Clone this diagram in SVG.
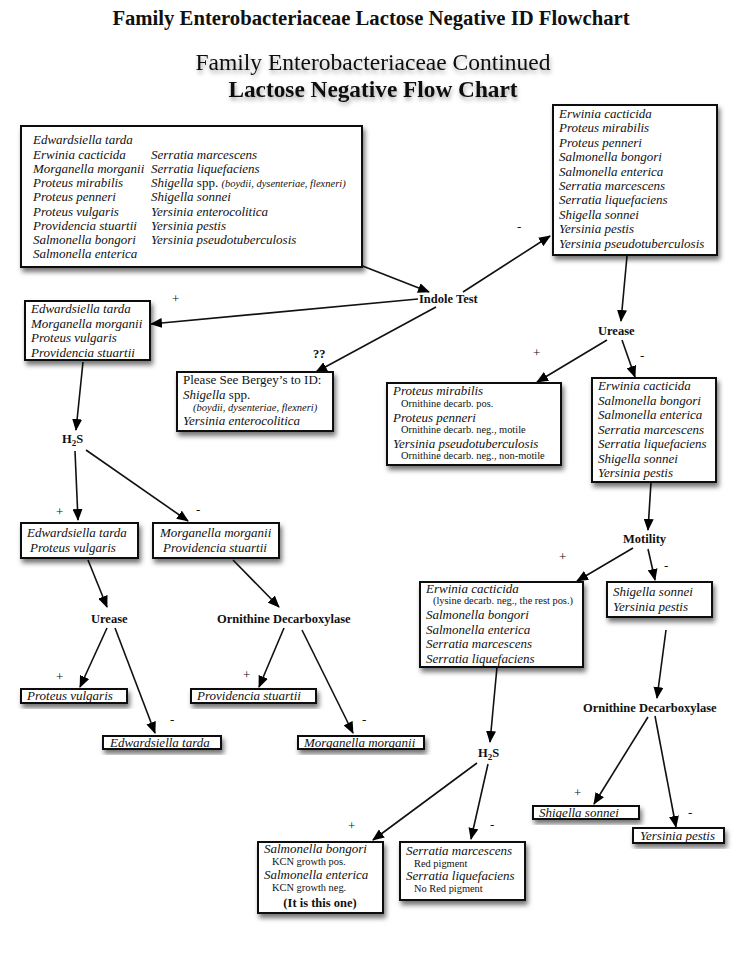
<svg xmlns="http://www.w3.org/2000/svg" width="736" height="960" viewBox="0 0 736 960">
<defs>
<filter id="sh" x="-10%" y="-20%" width="130%" height="160%">
<feDropShadow dx="2" dy="4" stdDeviation="2.5" flood-color="#000" flood-opacity="0.55"/>
</filter>
<filter id="tsh" x="-5%" y="-20%" width="110%" height="160%">
<feDropShadow dx="1" dy="3" stdDeviation="2" flood-color="#000" flood-opacity="0.35"/>
</filter>
<marker id="ah" markerUnits="userSpaceOnUse" markerWidth="12" markerHeight="10" refX="11" refY="5" orient="auto">
<path d="M0,0 L12,5 L0,10 z" fill="#000"/>
</marker>
</defs>
<style>
text{font-family:"Liberation Serif","Times New Roman",serif;fill:#111}
.t{font-weight:bold;font-size:20.7px}
.it{font-style:italic;font-size:13px}
.sm{font-size:10.4px}
.smi{font-size:10.5px;font-style:italic}
.lb{font-weight:bold;font-size:12.5px}
.pm{font-size:13px;fill:#111}
.box{fill:#fff;stroke:#111;stroke-width:2;filter:url(#sh)}
.c line{stroke:#111;stroke-width:1.6;marker-end:url(#ah)}
</style>
<rect width="736" height="960" fill="#fff"/>
<g id="title">
<text class="t" x="371" y="25" text-anchor="middle">Family Enterobacteriaceae Lactose Negative ID Flowchart</text>
<text x="373" y="70" text-anchor="middle" font-size="23.5" filter="url(#tsh)">Family Enterobacteriaceae Continued</text>
<text x="373" y="97" text-anchor="middle" font-size="23.3" font-weight="bold" filter="url(#tsh)">Lactose Negative Flow Chart</text>
</g>
<g class="c" id="connectors">
<line x1="360" y1="265" x2="429" y2="292"/>
<line x1="463" y1="292" x2="550" y2="236"/>
<line x1="418" y1="299" x2="151" y2="324"/>
<line x1="436" y1="307" x2="316" y2="372"/>
<line x1="627" y1="256" x2="621" y2="321"/>
<line x1="607" y1="340" x2="537" y2="382"/>
<line x1="622" y1="340" x2="635" y2="377"/>
<line x1="651" y1="482" x2="648" y2="530"/>
<line x1="633" y1="548" x2="577" y2="581"/>
<line x1="648" y1="549" x2="655" y2="580"/>
<line x1="666" y1="630" x2="657" y2="698"/>
<line x1="648" y1="717" x2="594" y2="804"/>
<line x1="655" y1="716" x2="676" y2="827"/>
<line x1="497" y1="667" x2="490" y2="742"/>
<line x1="477" y1="763" x2="373" y2="840"/>
<line x1="488" y1="764" x2="471" y2="839"/>
<line x1="83" y1="362" x2="76" y2="430"/>
<line x1="75" y1="451" x2="78" y2="520"/>
<line x1="86" y1="450" x2="188" y2="521"/>
<line x1="88" y1="560" x2="107" y2="607"/>
<line x1="233" y1="560" x2="279" y2="607"/>
<line x1="107" y1="628" x2="80" y2="687"/>
<line x1="115" y1="628" x2="155" y2="733"/>
<line x1="284" y1="628" x2="259" y2="687"/>
<line x1="302" y1="630" x2="353" y2="733"/>
</g>
<g id="edge-labels">
<text class="pm" x="517" y="231">-</text>
<text class="pm" x="172" y="303">+</text>
<text class="lb" x="313" y="358">??</text>
<text class="pm" x="533" y="357">+</text>
<text class="pm" x="640" y="360">-</text>
<text class="pm" x="559" y="561">+</text>
<text class="pm" x="664" y="570">-</text>
<text class="pm" x="574" y="797">+</text>
<text class="pm" x="688" y="817">-</text>
<text class="pm" x="348" y="830">+</text>
<text class="pm" x="490" y="829">-</text>
<text class="pm" x="56" y="516">+</text>
<text class="pm" x="196" y="514">-</text>
<text class="pm" x="56" y="681">+</text>
<text class="pm" x="170" y="724">-</text>
<text class="pm" x="243" y="679">+</text>
<text class="pm" x="362" y="724">-</text>
</g>
<g id="box-all">
<rect class="box" x="21" y="126" width="341" height="141"/>
<text class="it" x="33"><tspan x="33" y="144">Edwardsiella tarda</tspan><tspan x="33" y="158.5">Erwinia cacticida</tspan><tspan x="33" y="172.5">Morganella morganii</tspan><tspan x="33" y="187">Proteus mirabilis</tspan><tspan x="33" y="201">Proteus penneri</tspan><tspan x="33" y="215.5">Proteus vulgaris</tspan><tspan x="33" y="229.5">Providencia stuartii</tspan><tspan x="33" y="244">Salmonella bongori</tspan><tspan x="33" y="258">Salmonella enterica</tspan></text>
<text class="it"><tspan x="151" y="158.5">Serratia marcescens</tspan><tspan x="151" y="172.5">Serratia liquefaciens</tspan><tspan x="151" y="187">Shigella <tspan font-style="normal">spp.</tspan> <tspan font-size="10.5">(boydii, dysenteriae, flexneri)</tspan></tspan><tspan x="151" y="201">Shigella sonnei</tspan><tspan x="151" y="215.5">Yersinia enterocolitica</tspan><tspan x="151" y="229.5">Yersinia pestis</tspan><tspan x="151" y="244">Yersinia pseudotuberculosis</tspan></text>
</g>
<g id="box-indole-neg">
<rect class="box" x="553" y="105" width="164" height="150"/>
<text class="it"><tspan x="559" y="118">Erwinia cacticida</tspan><tspan x="559" y="132.4">Proteus mirabilis</tspan><tspan x="559" y="146.8">Proteus penneri</tspan><tspan x="559" y="161.2">Salmonella bongori</tspan><tspan x="559" y="175.6">Salmonella enterica</tspan><tspan x="559" y="190">Serratia marcescens</tspan><tspan x="559" y="204.4">Serratia liquefaciens</tspan><tspan x="559" y="218.8">Shigella sonnei</tspan><tspan x="559" y="233.2">Yersinia pestis</tspan><tspan x="559" y="247.6">Yersinia pseudotuberculosis</tspan></text>
</g>
<g id="indole"><text class="lb" x="419" y="303">Indole Test</text></g>
<g id="box-indole-pos">
<rect class="box" x="25" y="301" width="125" height="59"/>
<text class="it"><tspan x="31" y="313">Edwardsiella tarda</tspan><tspan x="31" y="327.5">Morganella morganii</tspan><tspan x="31" y="342">Proteus vulgaris</tspan><tspan x="31" y="356.5">Providencia stuartii</tspan></text>
</g>
<g id="box-bergey">
<rect class="box" x="177" y="372" width="156" height="59"/>
<text font-size="13"><tspan x="183" y="384">Please See Bergey’s to ID:</tspan><tspan x="183" y="399"><tspan font-style="italic">Shigella</tspan> spp.</tspan></text>
<text class="smi" x="193" y="411">(boydii, dysenteriae, flexneri)</text>
<text class="it" x="183" y="425">Yersinia enterocolitica</text>
</g>
<g id="urease-r"><text class="lb" x="598" y="335">Urease</text></g>
<g id="box-urease-pos">
<rect class="box" x="387" y="383" width="174" height="82"/>
<text class="it"><tspan x="393" y="395">Proteus mirabilis</tspan><tspan x="393" y="422">Proteus penneri</tspan><tspan x="393" y="447.5">Yersinia pseudotuberculosis</tspan></text>
<text class="sm"><tspan x="401" y="407">Ornithine decarb. pos.</tspan><tspan x="401" y="433">Ornithine decarb. neg., motile</tspan><tspan x="401" y="459">Ornithine decarb. neg., non-motile</tspan></text>
</g>
<g id="box-urease-neg">
<rect class="box" x="592" y="378" width="124" height="104"/>
<text class="it"><tspan x="598" y="390">Erwinia cacticida</tspan><tspan x="598" y="404.5">Salmonella bongori</tspan><tspan x="598" y="419">Salmonella enterica</tspan><tspan x="598" y="433.5">Serratia marcescens</tspan><tspan x="598" y="448">Serratia liquefaciens</tspan><tspan x="598" y="462.5">Shigella sonnei</tspan><tspan x="598" y="477">Yersinia pestis</tspan></text>
</g>
<g id="motility"><text class="lb" x="623" y="543">Motility</text></g>
<g id="box-motility-pos">
<rect class="box" x="420" y="582" width="163" height="85"/>
<text class="it" x="426" y="593">Erwinia cacticida</text>
<text class="sm" x="433" y="604">(lysine decarb. neg., the rest pos.)</text>
<text class="it"><tspan x="426" y="619">Salmonella bongori</tspan><tspan x="426" y="633.5">Salmonella enterica</tspan><tspan x="426" y="648">Serratia marcescens</tspan><tspan x="426" y="662.5">Serratia liquefaciens</tspan></text>
</g>
<g id="box-motility-neg">
<rect class="box" x="607" y="582" width="105" height="35"/>
<text class="it"><tspan x="613" y="596">Shigella sonnei</tspan><tspan x="613" y="610.5">Yersinia pestis</tspan></text>
</g>
<g id="ornithine-r"><text class="lb" font-size="13" x="583" y="712">Ornithine Decarboxylase</text></g>
<g id="box-shigella-sonnei">
<rect class="box" x="533" y="806" width="106" height="13"/>
<text class="it" font-size="12.5" x="539" y="817">Shigella sonnei</text>
</g>
<g id="box-yersinia-pestis">
<rect class="box" x="633" y="828" width="91" height="15"/>
<text class="it" font-size="12.5" x="640" y="840">Yersinia pestis</text>
</g>
<g id="h2s-r"><text class="lb" x="478" y="757">H<tspan font-size="9" dy="3">2</tspan><tspan dy="-3">S</tspan></text></g>
<g id="box-h2s-pos">
<rect class="box" x="258" y="842" width="125" height="71"/>
<text class="it"><tspan x="264" y="853">Salmonella bongori</tspan><tspan x="264" y="879">Salmonella enterica</tspan></text>
<text class="sm"><tspan x="272" y="865">KCN growth pos.</tspan><tspan x="272" y="891">KCN growth neg.</tspan></text>
<text class="lb" font-size="13" x="320" y="907" text-anchor="middle">(It is this one)</text>
</g>
<g id="box-h2s-neg">
<rect class="box" x="400" y="842" width="125" height="58"/>
<text class="it"><tspan x="406" y="855">Serratia marcescens</tspan><tspan x="406" y="880">Serratia liquefaciens</tspan></text>
<text class="sm" font-size="10.8"><tspan x="414" y="867">Red pigment</tspan><tspan x="414" y="892">No Red pigment</tspan></text>
</g>
<g id="h2s-l"><text class="lb" x="62" y="443">H<tspan font-size="9" dy="3">2</tspan><tspan dy="-3">S</tspan></text></g>
<g id="box-h2s-l-pos">
<rect class="box" x="21" y="523" width="117" height="35"/>
<text class="it"><tspan x="27" y="537">Edwardsiella tarda</tspan><tspan x="30" y="551.5">Proteus vulgaris</tspan></text>
</g>
<g id="box-h2s-l-neg">
<rect class="box" x="153" y="523" width="126" height="35"/>
<text class="it"><tspan x="160" y="537">Morganella morganii</tspan><tspan x="163" y="551.5">Providencia stuartii</tspan></text>
</g>
<g id="urease-l"><text class="lb" x="91" y="623">Urease</text></g>
<g id="ornithine-l"><text class="lb" font-size="13" x="217" y="623">Ornithine Decarboxylase</text></g>
<g id="box-proteus-vulgaris">
<rect class="box" x="21" y="689" width="106" height="14"/>
<text class="it" font-size="12.5" x="27" y="700">Proteus vulgaris</text>
</g>
<g id="box-edwardsiella-tarda">
<rect class="box" x="103" y="736" width="118" height="13"/>
<text class="it" font-size="12.5" x="110" y="746.5">Edwardsiella tarda</text>
</g>
<g id="box-providencia-stuartii">
<rect class="box" x="191" y="689" width="125" height="14"/>
<text class="it" font-size="12.5" x="197" y="700">Providencia stuartii</text>
</g>
<g id="box-morganella-morganii">
<rect class="box" x="298" y="736" width="126" height="13"/>
<text class="it" font-size="12.5" x="304" y="746.5">Morganella morganii</text>
</g>
</svg>
